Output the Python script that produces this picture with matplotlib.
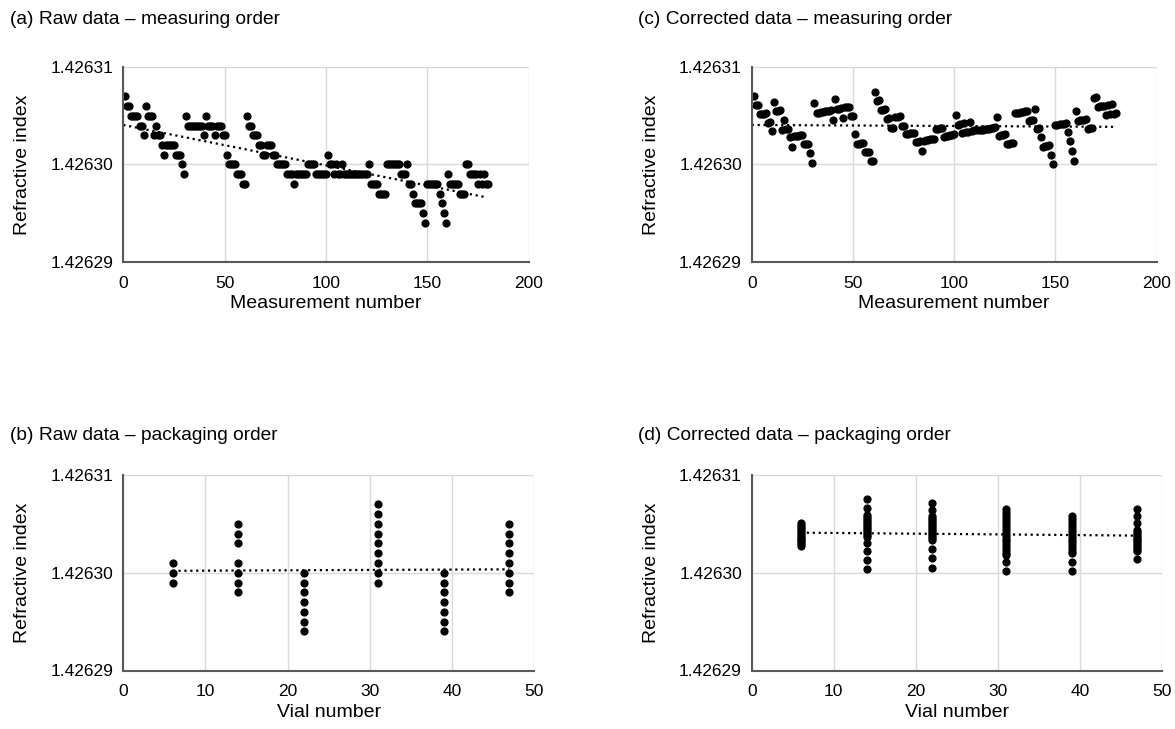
import numpy as np
import matplotlib
matplotlib.use("Agg")
import matplotlib.pyplot as plt

plt.rcParams['font.family'] = ['Liberation Sans', 'DejaVu Sans']

# values are offsets from 1.42630 in units of 1e-6
BASE = 1.42630
UNIT = 1e-6

raw_meas = [
    7, 6, 6, 5, 5, 5, 5, 4, 4, 3,
    6, 5, 5, 5, 3, 4, 3, 3, 2, 1,
    2, 2, 2, 2, 2, 1, 1, 1, 0, -1,
    5, 4, 4, 4, 4, 4, 4, 4, 4, 3,
    5, 4, 4, 4, 3, 4, 4, 4, 3, 3,
    1, 0, 0, 0, 0, -1, -1, -1, -2, -2,
    5, 4, 4, 3, 3, 3, 2, 2, 1, 1,
    2, 2, 2, 1, 1, 0, 0, 0, 0, 0,
    -1, -1, -1, -2, -1, -1, -1, -1, -1, -1,
    0, 0, 0, 0, -1, -1, -1, -1, -1, -1,
    1, 0, 0, -1, 0, -1, -1, 0, -1, -1,
    -1, -1, -1, -1, -1, -1, -1, -1, -1, -1,
    0, -2, -2, -2, -2, -3, -3, -3, -3, 0,
    0, 0, 0, 0, 0, 0, -1, -1, -1, 0,
    -2, -2, -3, -4, -4, -4, -4, -5, -6, -2,
    -2, -2, -2, -2, -2, -3, -4, -5, -6, -1,
    -2, -2, -2, -2, -2, -3, -3, -3, 0, 0,
    -1, -1, -1, -1, -2, -1, -2, -1, -2, -2,
]

corr_meas = [
    7.0, 6.1, 6.1, 5.2, 5.2, 5.2, 5.3, 4.3, 4.4, 3.4,
    6.4, 5.5, 5.5, 5.6, 3.6, 4.6, 3.7, 3.7, 2.8, 1.8,
    2.9, 2.9, 2.9, 3.0, 3.0, 2.1, 2.1, 2.1, 1.2, 0.2,
    6.3, 5.3, 5.3, 5.4, 5.4, 5.5, 5.5, 5.5, 5.6, 4.6,
    6.7, 5.7, 5.7, 5.8, 4.8, 5.9, 5.9, 5.9, 5.0, 5.0,
    3.1, 2.1, 2.1, 2.2, 2.2, 1.3, 1.3, 1.3, 0.4, 0.4,
    7.5, 6.5, 6.6, 5.6, 5.6, 5.7, 4.7, 4.8, 3.8, 3.8,
    4.9, 4.9, 5.0, 4.0, 4.0, 3.1, 3.1, 3.2, 3.2, 3.2,
    2.3, 2.3, 2.4, 1.4, 2.4, 2.5, 2.5, 2.6, 2.6, 2.6,
    3.7, 3.7, 3.8, 3.8, 2.8, 2.9, 2.9, 3.0, 3.0, 3.1,
    5.1, 4.1, 4.2, 3.2, 4.3, 3.3, 3.3, 4.4, 3.4, 3.5,
    3.5, 3.5, 3.6, 3.6, 3.7, 3.7, 3.7, 3.8, 3.8, 3.9,
    4.9, 2.9, 3.0, 3.0, 3.1, 2.1, 2.1, 2.2, 2.2, 5.3,
    5.3, 5.3, 5.4, 5.4, 5.5, 5.5, 4.5, 4.6, 4.6, 5.7,
    3.7, 3.8, 2.8, 1.8, 1.9, 1.9, 2.0, 1.0, 0.0, 4.1,
    4.1, 4.2, 4.2, 4.2, 4.3, 3.3, 2.4, 1.4, 0.4, 5.5,
    4.5, 4.6, 4.6, 4.6, 4.7, 3.7, 3.8, 3.8, 6.8, 6.9,
    5.9, 6.0, 6.0, 6.0, 5.1, 6.1, 5.2, 6.2, 5.2, 5.3,
]

vials = [6, 14, 22, 31, 39, 47]

raw_vial = [
    [1, 0, -1],
    [5, 4, 3, 1, 0, -1, -2],
    [0, -1, -2, -3, -4, -5, -6],
    [7, 6, 5, 4, 3, 2, 1, 0, -1],
    [0, -1, -2, -3, -4, -5, -6],
    [5, 4, 3, 2, 1, 0, -1, -2],
]

corr_vial = [
    [5.1, 4.9, 4.7, 4.5, 4.3, 4.1, 3.9, 3.7, 3.5, 3.3, 3.1, 2.9, 2.7],
    [7.5, 6.6, 5.9, 5.7, 5.5, 5.3, 5.1, 4.9, 4.7, 4.5, 4.3, 4.1, 3.9, 3.7,
     3.0, 2.2, 1.3, 0.4],
    [7.1, 6.4, 5.8, 5.6, 5.4, 5.2, 5.0, 4.8, 4.6, 4.4, 4.2, 4.0, 3.8, 3.6,
     3.4, 2.4, 1.5, 0.5],
    [6.5, 6.2, 5.9, 5.6, 5.3, 5.0, 4.7, 4.4, 4.1, 3.8, 3.5, 3.2, 2.9, 2.6,
     2.3, 2.0, 1.8, 1.1, 0.2],
    [5.8, 5.5, 5.2, 4.9, 4.6, 4.3, 4.0, 3.7, 3.4, 3.1, 2.8, 2.5, 2.2, 2.0,
     1.1, 0.2],
    [6.5, 5.8, 5.1, 4.4, 4.2, 4.0, 3.8, 3.6, 3.4, 3.2, 3.0, 2.8, 2.6, 2.4,
     2.2, 1.4],
]

# trend lines of the packaging-order plots (start, end)
trend_raw_vial = [0.2, 0.35]
trend_corr_vial = [4.1, 3.8]

y_ticks = [1.42629, 1.42630, 1.42631]
y_tick_labels = ['1.42629', '1.42630', '1.42631']


def to_ri(vals):
    return BASE + np.asarray(vals, dtype=float) * UNIT


def style_axes(ax, xmax, xstep, xlabel):
    ax.set_xlim(0, xmax)
    ax.set_ylim(y_ticks[0], y_ticks[-1])
    ax.set_xticks(np.arange(0, xmax + 1, xstep))
    ax.set_yticks(y_ticks)
    ax.set_yticklabels(y_tick_labels)
    ax.grid(True, color='#d9d9d9', linewidth=1.0)
    ax.set_axisbelow(True)
    for s in ['top', 'right']:
        ax.spines[s].set_visible(False)
    for s in ['left', 'bottom']:
        ax.spines[s].set_color('#595959')
        ax.spines[s].set_linewidth(1.5)
    ax.tick_params(length=0, labelsize=12.5)
    ax.tick_params(axis='x', pad=10)
    ax.tick_params(axis='y', pad=7)
    ax.set_xlabel(xlabel, fontsize=14, labelpad=3)
    ax.set_ylabel('Refractive index', fontsize=14, labelpad=14)


def measuring_plot(ax, vals):
    x = np.arange(1, len(vals) + 1)
    y = to_ri(vals)
    ax.plot(x, y, 'o', color='black', ms=4.9, mec='black')
    k, b = np.polyfit(x, np.asarray(vals, dtype=float), 1)
    xt = np.array([0, x[-1] - 1])
    ax.plot(xt, to_ri(k * xt + b), color='black', ls=':', lw=1.6)
    style_axes(ax, 200, 50, 'Measurement number')


def packaging_plot(ax, groups, trend):
    for v, g in zip(vials, groups):
        ax.plot([v] * len(g), to_ri(g), 'o', color='black', ms=4.9)
    ax.plot([vials[0], vials[-1]], to_ri(trend), color='black', ls=':', lw=1.6)
    style_axes(ax, 50, 10, 'Vial number')


fig = plt.figure(figsize=(11.75, 7.29), dpi=100)
W, H = 1175, 729


def add_ax(l, r, t, b):
    return fig.add_axes([l / W, 1 - b / H, (r - l) / W, (b - t) / H])


ax_a = add_ax(123.3, 528.7, 67.3, 261.7)
ax_c = add_ax(751.7, 1156.7, 67.3, 261.7)
ax_b = add_ax(123.3, 534, 475, 670.5)
ax_d = add_ax(751.7, 1162, 475, 670.5)

measuring_plot(ax_a, raw_meas)
measuring_plot(ax_c, corr_meas)
packaging_plot(ax_b, raw_vial, trend_raw_vial)
packaging_plot(ax_d, corr_vial, trend_corr_vial)

fig.text(10 / W, 1 - 20 / H, '(a) Raw data – measuring order', fontsize=13.8, va='center')
fig.text(638 / W, 1 - 20 / H, '(c) Corrected data – measuring order', fontsize=13.8, va='center')
fig.text(10 / W, 1 - 436 / H, '(b) Raw data – packaging order', fontsize=13.8, va='center')
fig.text(638 / W, 1 - 436 / H, '(d) Corrected data – packaging order', fontsize=13.8, va='center')

fig.savefig('out.png', dpi=100)
